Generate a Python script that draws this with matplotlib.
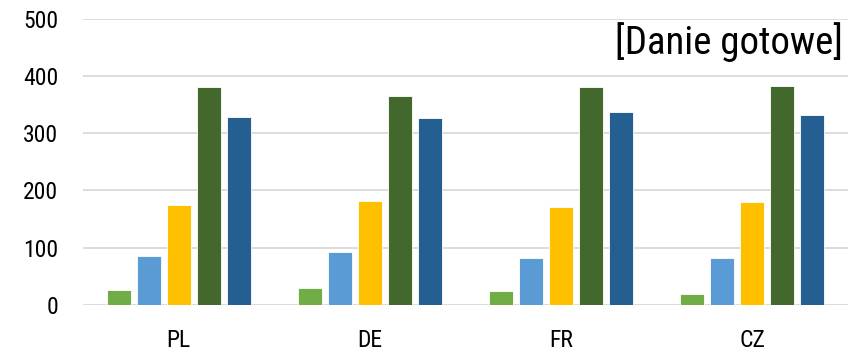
import matplotlib.pyplot as plt
import numpy as np

plt.rcParams['font.family'] = ['Roboto Condensed', 'Liberation Sans Narrow', 'DejaVu Sans']
plt.rcParams['font.stretch'] = 'condensed'

countries = ['PL', 'DE', 'FR', 'CZ']
s1 = [26, 29, 24, 20]      # light green
s2 = [86, 92, 82, 82]      # light blue
s3 = [175, 182, 171, 180]  # yellow
s4 = [380, 365, 381, 383]  # dark green
s5 = [329, 327, 337, 331]  # dark blue
series = [s1, s2, s3, s4, s5]
colors = ['#70AD47', '#5B9BD5', '#FFC000', '#43682B', '#255E91']

fig = plt.figure(figsize=(8.48, 3.51), dpi=100)
ax = fig.add_axes([0.098, 0.131, 0.902, 0.816])

x = np.arange(len(countries))
step = 0.157
width = 0.125
for i, (vals, c) in enumerate(zip(series, colors)):
    ax.bar(x + (i - 2) * step, vals, width, color=c, edgecolor='white',
           linewidth=0.6, zorder=3)

ax.set_xlim(-0.5, 3.5)
ax.set_ylim(0, 500)
ax.set_yticks(range(0, 501, 100))
ax.set_xticks(x)
ax.set_xticklabels(countries)
ax.grid(axis='y', color='#D9D9D9', linewidth=1.3, zorder=0)
for s in ax.spines.values():
    s.set_visible(False)
ax.tick_params(length=0, labelsize=17, colors='black')
ax.tick_params(axis='y', pad=18)
ax.tick_params(axis='x', pad=17)

ax.text(0.993, 459, '[Danie gotowe]', transform=ax.get_yaxis_transform(),
        ha='right', va='center', fontsize=28)

fig.savefig('out.png', dpi=100)
